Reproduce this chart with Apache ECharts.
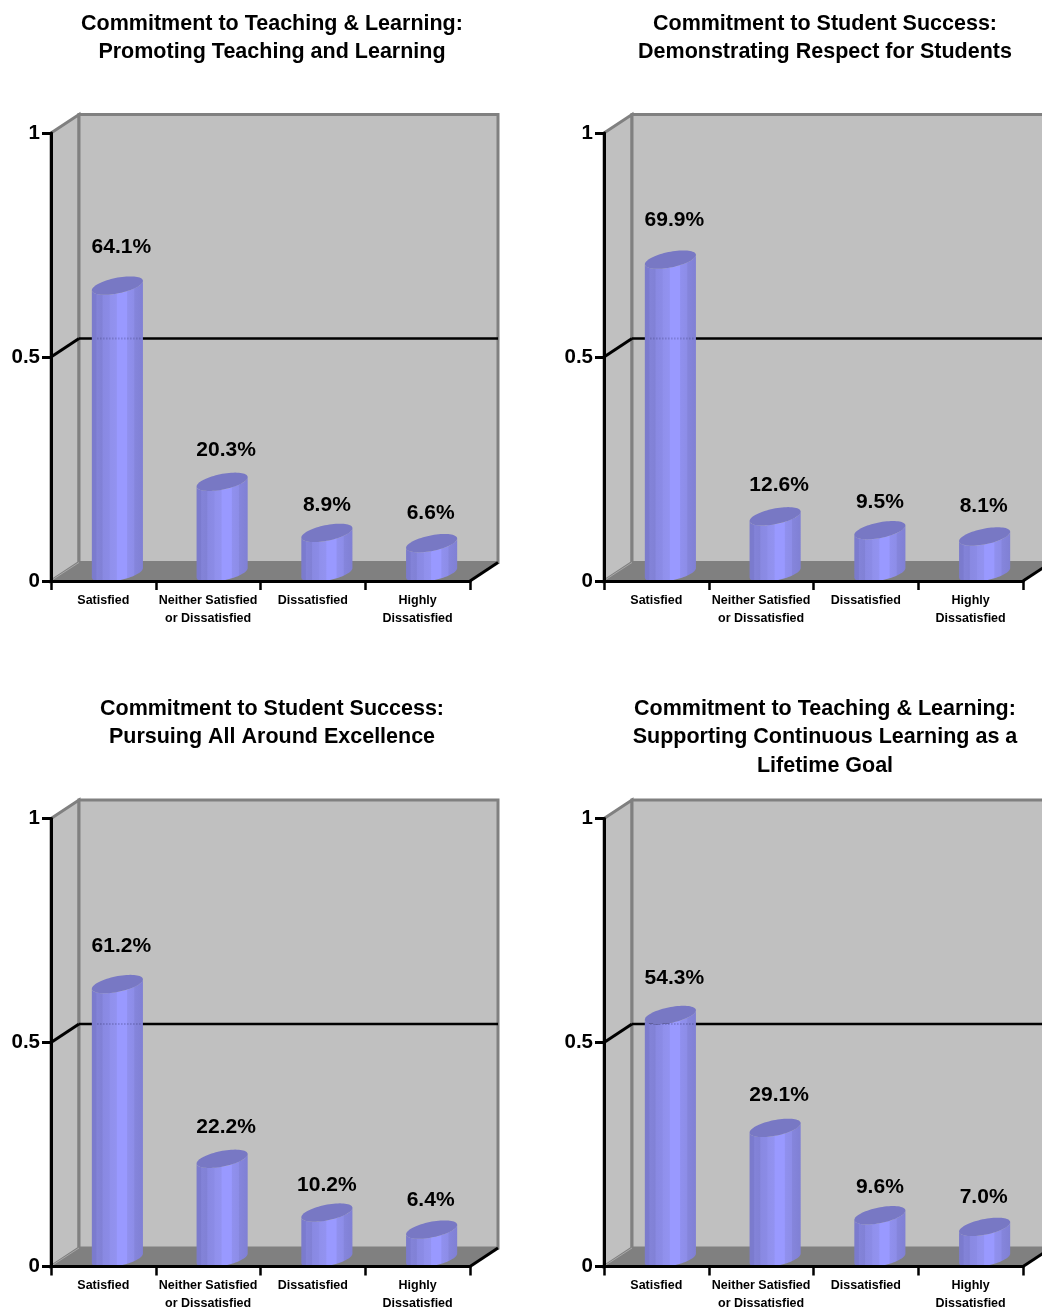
<!DOCTYPE html>
<html>
<head>
<meta charset="utf-8">
<style>html,body{margin:0;padding:0;background:#fff}#c{width:1042px;height:1310px}</style>
<script src="https://cdn.jsdelivr.net/npm/echarts@6/dist/echarts.min.js"></script>
</head>
<body>
<div id="c"></div>
<script>
const categories = ['Satisfied', 'Neither Satisfied\nor Dissatisfied', 'Dissatisfied', 'Highly\nDissatisfied'];
const titles = [
  'Commitment to Teaching & Learning:\nPromoting Teaching and Learning',
  'Commitment to Student Success:\nDemonstrating Respect for Students',
  'Commitment to Student Success:\nPursuing All Around Excellence',
  'Commitment to Teaching & Learning:\nSupporting Continuous Learning as a\nLifetime Goal'
];
const promotingTeaching = [64.1, 20.3, 8.9, 6.6];
const demonstratingRespect = [69.9, 12.6, 9.5, 8.1];
const pursuingExcellence = [61.2, 22.2, 10.2, 6.4];
const supportingLearning = [54.3, 29.1, 9.6, 7.0];
const panelValues = [promotingTeaching, demonstratingRespect, pursuingExcellence, supportingLearning];
const yTicks = { min: 0, max: 1, interval: 0.5 };

const FONT = '"Liberation Sans", Arial, sans-serif';
const DX = 28, DY = 18.5;
const labelShift = [4, 4, 0, -1];
const labelDrop = [0, 0, 2.5, 0];
const grids = [[51, 133], [604, 133], [51, 818.5], [604, 818.5]];
const titleCenters = [[272, 9.7], [825, 9.7], [272, 694.7], [825, 694.7]];

const chart = echarts.init(document.getElementById('c'), null, { renderer: 'canvas' });

function renderWalls(params, api) {
  const c = params.coordSys;
  const x0 = c.x, x1 = c.x + c.width, top = c.y, bot = c.y + c.height;
  const mid = api.coord([0, 0.5])[1];
  const gray = '#808080';
  const poly = (pts, fill, stroke, w) => ({
    type: 'polygon', shape: { points: pts },
    style: { fill: fill, stroke: stroke || null, lineWidth: w || 0, lineJoin: 'miter' }
  });
  const line = (a, b, color, w) => ({
    type: 'line', shape: { x1: a[0], y1: a[1], x2: b[0], y2: b[1] },
    style: { stroke: color, lineWidth: w }
  });
  return {
    type: 'group', children: [
      poly([[x0, top], [x0 + DX, top - DY], [x0 + DX, bot - DY], [x0, bot]], '#C0C0C0', gray, 3),
      poly([[x0 + DX, top - DY], [x1 + DX, top - DY], [x1 + DX, bot - DY], [x0 + DX, bot - DY]], '#C0C0C0', gray, 3),
      poly([[x0, bot], [x0 + DX, bot - DY], [x1 + DX, bot - DY], [x1, bot]], '#808080'),
      line([x0 + 1, bot - 1], [x0 + DX, bot - DY], '#A8A8A8', 1),
      line([x1, bot], [x1 + DX, bot - DY], '#000000', 3),
      line([x0, mid], [x0 + DX, mid - DY], '#000000', 3),
      line([x0 + DX, mid - DY], [x1 + DX, mid - DY], '#000000', 2.5)
    ]
  };
}

const barStops = [
  [0, '#7B7BCB'], [0.08, '#7B7BCF'], [0.10, '#8383D8'], [0.2, '#8181D6'], [0.22, '#8989E2'],
  [0.34, '#8B8BE6'], [0.36, '#9090EC'], [0.48, '#9292F0'], [0.5, '#9999FF'], [0.68, '#9999FF'],
  [0.70, '#9090EE'], [0.82, '#8D8DE8'], [0.84, '#8585DC'], [1, '#8080D4']
].map(s => ({ offset: s[0], color: s[1] }));

function ellipsePts(cx, cy, from, to, n) {
  const ax = 22, bx = 13, by = -9.2, pts = [];
  for (let i = 0; i <= n; i++) {
    const t = from + (to - from) * i / n;
    pts.push([cx + ax * Math.cos(t) + bx * Math.sin(t), cy + by * Math.sin(t)]);
  }
  return pts;
}

function renderBar(params, api) {
  const idx = api.value(0), v = api.value(1);
  const base = api.coord([idx, 0]), tip = api.coord([idx, v]);
  const cx = base[0] + DX / 2;
  const baseC = base[1] - DY / 2 + 1, topC = tip[1] - DY / 2 + 1;
  const leftT = Math.PI + Math.atan2(13, 22);
  const rightT = 2 * Math.PI + Math.atan2(13, 22);
  const lower = ellipsePts(cx, baseC, leftT, rightT, 40);
  const upper = ellipsePts(cx, topC, rightT, leftT, 40);
  const top = ellipsePts(cx, topC, 0, 2 * Math.PI, 72);
  const mid = api.coord([0, 0.5])[1] - DY;
  const children = [{
    type: 'polygon', shape: { points: lower.concat(upper) },
    style: { fill: new echarts.graphic.LinearGradient(0, 0, 1, 0, barStops) }
  }];
  if (v > 0.5) {
    children.push({
      type: 'line', shape: { x1: cx - 20, y1: mid, x2: cx + 25, y2: mid },
      style: { stroke: 'rgba(50,50,110,0.4)', lineWidth: 2, lineDash: [1, 2] }
    });
  }
  children.push({ type: 'polygon', shape: { points: top }, style: { fill: '#7878C4' } });
  const plotH = params.coordSys.height;
  children.push({
    type: 'text',
    style: {
      x: cx + labelShift[idx],
      y: base[1] - v * plotH * 1.033 - 37 + labelDrop[idx],
      text: (v * 100).toFixed(1) + '%',
      align: 'center', verticalAlign: 'middle',
      font: 'bold 21px ' + FONT, fill: '#000'
    }
  });
  return { type: 'group', children: children };
}

const option = {
  animation: false,
  backgroundColor: '#fff',
  title: titles.map((t, i) => ({
    text: t, left: titleCenters[i][0], top: titleCenters[i][1], textAlign: 'center', padding: 0,
    textStyle: { fontFamily: FONT, fontWeight: 'bold', fontSize: 21.5, lineHeight: 28.4, color: '#000' }
  })),
  grid: grids.map(g => ({ left: g[0], top: g[1], width: 419, height: 448, containLabel: false, outerBoundsMode: 'none' })),
  xAxis: grids.map((g, i) => ({
    type: 'category', gridIndex: i, data: categories, z: 5, boundaryGap: true,
    axisLine: { onZero: false, lineStyle: { color: '#000', width: 3 } },
    axisTick: { show: true, length: 9, alignWithLabel: false, lineStyle: { color: '#000', width: 2.5 } },
    axisLabel: { interval: 0, margin: 10.5, hideOverlap: false, fontFamily: FONT, fontWeight: 'bold', fontSize: 12.5, lineHeight: 18, color: '#000' },
    splitLine: { show: false }
  })),
  yAxis: grids.map((g, i) => ({
    type: 'value', gridIndex: i, min: yTicks.min, max: yTicks.max, interval: yTicks.interval, z: 5,
    axisLine: { show: true, lineStyle: { color: '#000', width: 3 } },
    axisTick: { show: true, length: 9, lineStyle: { color: '#000', width: 3 } },
    axisLabel: { margin: 11, padding: [4, 0, 0, 0], fontFamily: FONT, fontWeight: 'bold', fontSize: 20.5, color: '#000' },
    splitLine: { show: false }
  })),
  series: []
};
panelValues.forEach((vals, i) => {
  option.series.push({
    type: 'custom', xAxisIndex: i, yAxisIndex: i, z: 1, silent: true, clip: false,
    renderItem: renderWalls, data: [[0, 0]]
  });
  option.series.push({
    type: 'custom', xAxisIndex: i, yAxisIndex: i, z: 3, silent: true, clip: false,
    renderItem: renderBar,
    encode: { x: 0, y: 1 },
    data: vals.map((v, k) => [k, v / 100])
  });
});
chart.setOption(option);
</script>
</body>
</html>
